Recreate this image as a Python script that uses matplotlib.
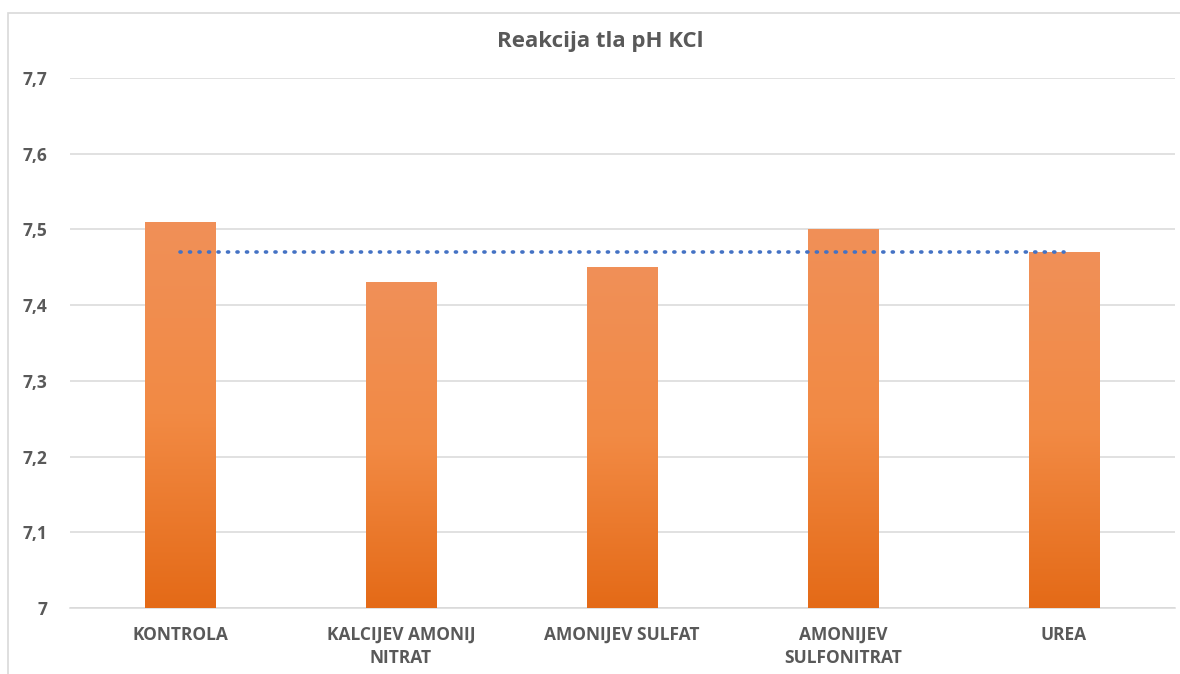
import matplotlib.pyplot as plt
import numpy as np
from matplotlib.colors import LinearSegmentedColormap
from matplotlib.patches import Rectangle

# podaci
kategorije = ['KONTROLA', 'KALCIJEV AMONIJ\nNITRAT', 'AMONIJEV SULFAT', 'AMONIJEV\nSULFONITRAT', 'UREA']
ph_kcl = [7.51, 7.43, 7.45, 7.50, 7.47]
prosjek = [7.47, 7.47, 7.47, 7.47, 7.47]   # točkasta linija
y_ticks = [7.0, 7.1, 7.2, 7.3, 7.4, 7.5, 7.6, 7.7]
y_labels = ['7', '7,1', '7,2', '7,3', '7,4', '7,5', '7,6', '7,7']

plt.rcParams['font.family'] = ['Open Sans', 'DejaVu Sans']
siva = '#595959'

fig = plt.figure(figsize=(11.8, 6.74), dpi=100)
# okvir grafikona
fig.patches.append(Rectangle((8 / 1180, -0.1), 1.2, 1 - 13 / 674 + 0.1, transform=fig.transFigure,
                             fill=False, edgecolor='#D9D9D9', lw=1.2, zorder=0))

ax = fig.add_axes([69.5 / 1180, 1 - 608 / 674, 1105 / 1180, 530 / 674])
x = np.arange(len(kategorije))

cmap = LinearSegmentedColormap.from_list('nar', ['#E46A17', '#F28A44', '#F09058'])
grad = np.linspace(0, 1, 256).reshape(-1, 1)
bars = ax.bar(x, ph_kcl, width=0.317, color='none', edgecolor='none', zorder=3)
for b in bars:
    x0, y0 = b.get_x(), b.get_y()
    w, h = b.get_width(), b.get_height()
    # sjena
    ax.add_patch(Rectangle((x0 + 0.006, y0), w, h - 0.001, facecolor='#C8C8C8', edgecolor='none',
                           alpha=0.6, zorder=2))
    im = ax.imshow(grad, cmap=cmap, origin='lower', aspect='auto',
                   extent=[x0, x0 + w, 7.0, y0 + h], zorder=3)
    im.set_clip_path(b)

ax.plot(x, prosjek, color='#4472C4', lw=2.6, ls=(0, (0.3, 2.33)), dash_capstyle='round', zorder=4)

ax.set_xlim(-0.5, len(kategorije) - 0.5)
ax.set_ylim(7.0, 7.7)
ax.set_yticks(y_ticks)
ax.set_yticklabels(y_labels)
ax.set_xticks(x)
ax.set_xticklabels(kategorije, linespacing=1.35)
ax.yaxis.grid(True, color='#D9D9D9', lw=1.1)
ax.set_axisbelow(True)
for s in ax.spines.values():
    s.set_visible(False)
ax.spines['bottom'].set_visible(True)
ax.spines['bottom'].set_color('#D9D9D9')
ax.spines['bottom'].set_linewidth(1.1)
ax.tick_params(length=0, labelsize=12.5, labelcolor=siva)
ax.tick_params(axis='x', pad=13)
ax.tick_params(axis='y', pad=16)
for t in ax.get_xticklabels() + ax.get_yticklabels():
    t.set_fontweight('bold')

fig.text(600 / 1180, 1 - 42 / 674, 'Reakcija tla pH KCl', ha='center', va='center',
         fontsize=16, fontweight='bold', color=siva)

fig.savefig('out.png', dpi=100)
